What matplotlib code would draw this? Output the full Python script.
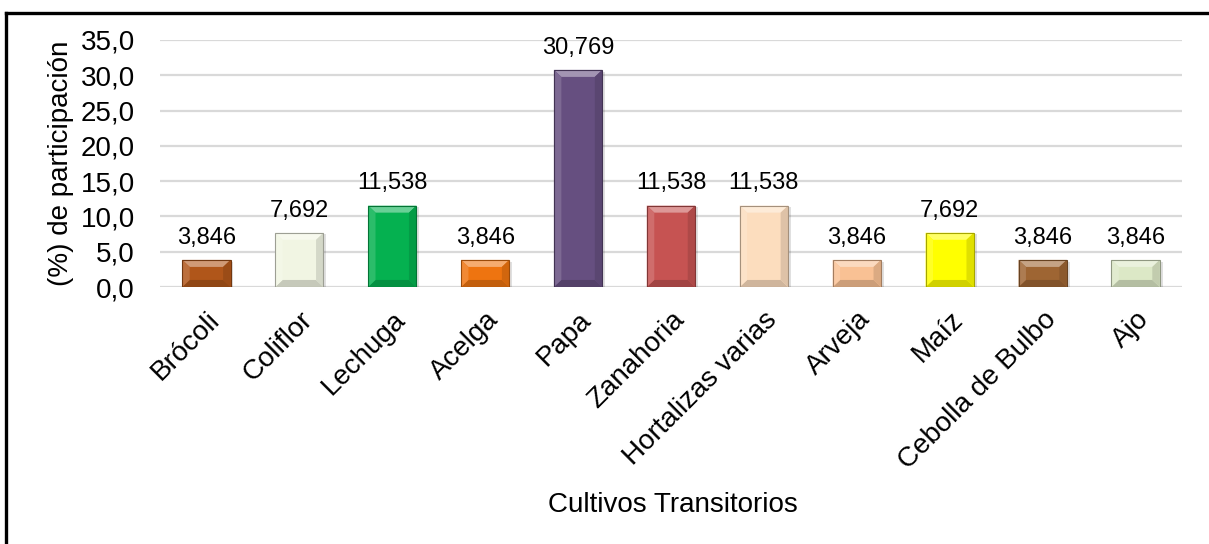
import numpy as np
import matplotlib.pyplot as plt
from matplotlib.patches import Polygon, Rectangle
from matplotlib.lines import Line2D
from matplotlib.colors import to_rgb
from matplotlib.transforms import ScaledTranslation

plt.rcParams['font.family'] = ['Liberation Sans', 'DejaVu Sans']

# Data
cultivos = ['Brócoli', 'Coliflor', 'Lechuga', 'Acelga', 'Papa', 'Zanahoria',
            'Hortalizas varias', 'Arveja', 'Maíz', 'Cebolla de Bulbo', 'Ajo']
participacion = [3.846, 7.692, 11.538, 3.846, 30.769, 11.538,
                 11.538, 3.846, 7.692, 3.846, 3.846]
colores = ['#B0561A', '#F1F5E3', '#05B150', '#EE7410', '#664F80', '#C65352',
           '#FCDDBE', '#F9C194', '#FFFF00', '#9E6533', '#DCE8C6']
yticks = np.arange(0, 36, 5)


def mix(c, other, t):
    c = np.array(to_rgb(c))
    return tuple(c * (1 - t) + np.array(other) * t)


fig = plt.figure(figsize=(12.09, 5.44), dpi=100)
ax = fig.add_axes([0.1323, 0.4724, 0.8454, 0.4541])

x = np.arange(len(cultivos))
w = 0.52
bars = ax.bar(x, participacion, width=w, color=colores, zorder=3,
              edgecolor='none')

# simple bevel effect on each bar
bx, by = 0.08, 1.0
for b, c in zip(bars, colores):
    x0, x1 = b.get_x(), b.get_x() + b.get_width()
    h = b.get_height()
    dy = min(by, h / 2.2)
    # shadow
    ax.add_patch(Rectangle((x0 + 0.03, -0.25), x1 - x0, h, color='#000000',
                           alpha=0.12, zorder=2, lw=0))
    top = [(x0, h), (x1, h), (x1 - bx, h - dy), (x0 + bx, h - dy)]
    bot = [(x0, 0), (x1, 0), (x1 - bx, dy), (x0 + bx, dy)]
    left = [(x0, 0), (x0, h), (x0 + bx, h - dy), (x0 + bx, dy)]
    right = [(x1, 0), (x1, h), (x1 - bx, h - dy), (x1 - bx, dy)]
    ax.add_patch(Polygon(top, color=mix(c, (1, 1, 1), 0.4), zorder=4, lw=0))
    ax.add_patch(Polygon(bot, color=mix(c, (0, 0, 0), 0.18), zorder=4, lw=0))
    ax.add_patch(Polygon(left, color=mix(c, (1, 1, 1), 0.15), zorder=4, lw=0))
    ax.add_patch(Polygon(right, color=mix(c, (0, 0, 0), 0.12), zorder=4, lw=0))
    ax.add_patch(Rectangle((x0, 0), x1 - x0, h, fill=False,
                           edgecolor=mix(c, (0, 0, 0), 0.35), lw=0.8, zorder=5))

for xi, v in zip(x, participacion):
    ax.annotate(f'{v:.3f}'.replace('.', ','), (xi, v), xytext=(0, 8),
                textcoords='offset points', ha='center', va='bottom',
                fontsize=17, color='#000000')

ax.set_xlim(-0.5, len(cultivos) - 0.5)
ax.set_ylim(0, 35)
ax.set_yticks(yticks)
ax.set_yticklabels([f'{t:.1f}'.replace('.', ',') for t in yticks], fontsize=20)
ax.set_xticks(x)
ax.set_xticklabels(cultivos, rotation=45, ha='right', rotation_mode='anchor',
                   fontsize=20)
shift = ScaledTranslation(-5 / 100, 0, fig.dpi_scale_trans)
for lab in ax.get_xticklabels():
    lab.set_transform(lab.get_transform() + shift)
ax.tick_params(axis='both', length=0)
ax.tick_params(axis='x', pad=14)
ax.tick_params(axis='y', pad=18)
ax.grid(axis='y', color='#D9D9D9', lw=1.6, zorder=0)
for s in ax.spines.values():
    s.set_visible(False)

ax.set_ylabel('(%) de participación', fontsize=20, labelpad=5)
fig.text(0.5566, 0.0717, 'Cultivos Transitorios', ha='center', va='center',
         fontsize=20)

# outer border (left and top only, as in the reference)
fig.add_artist(Line2D([6 / 1209, 6 / 1209], [0, 1 - 13 / 544], color='black',
                      lw=2.4, transform=fig.transFigure))
fig.add_artist(Line2D([6 / 1209, 1], [1 - 13 / 544, 1 - 13 / 544], color='black',
                      lw=2.4, transform=fig.transFigure))

fig.savefig('out.png', dpi=100, facecolor='white')
